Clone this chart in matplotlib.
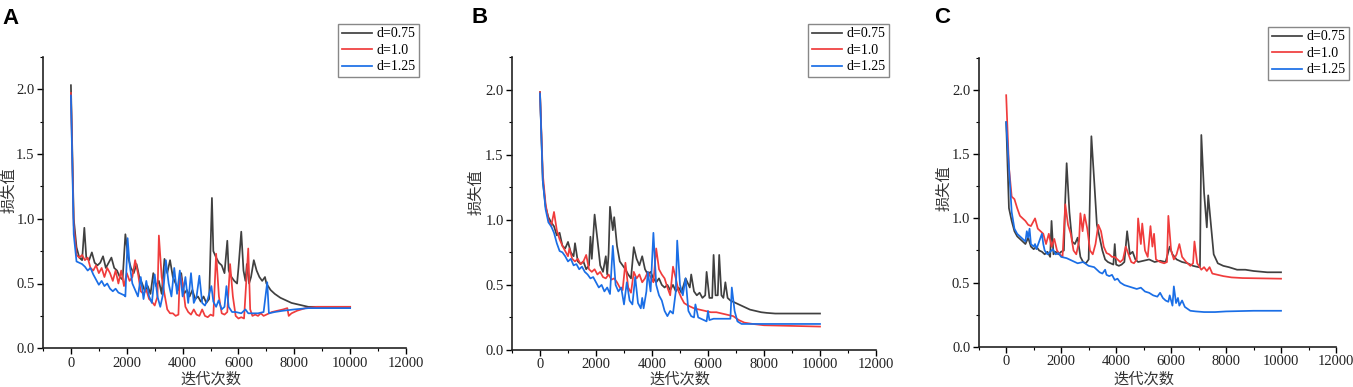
import numpy as np
import matplotlib
matplotlib.use("Agg")
import matplotlib.pyplot as plt
from matplotlib.ticker import MultipleLocator

# ---- panel A ----
a_x_075 = [0, 100, 200, 300, 400, 480, 550, 650, 750, 850, 950, 1050, 1150, 1250, 1350,
           1450, 1550, 1650, 1750, 1850, 1950, 2050, 2150, 2250, 2350, 2450, 2550, 2650,
           2750, 2850, 2950, 3050, 3150, 3250, 3350, 3450, 3550, 3650, 3750, 3850, 3950,
           4050, 4150, 4250, 4350, 4450, 4550, 4650, 4750, 4850, 4950, 5050, 5100, 5200,
           5300, 5400, 5500, 5600, 5650, 5750, 5850, 5950, 6000, 6100, 6180, 6250, 6300,
           6380, 6450, 6550, 6650, 6750, 6850, 6950, 7000, 7150, 7300, 7500, 7700, 7900,
           8100, 8300, 8500, 9000, 10000]
a_y_075 = [2.03, 1.00, 0.78, 0.70, 0.68, 0.93, 0.70, 0.68, 0.74, 0.66, 0.64, 0.66, 0.71, 0.62, 0.66,
           0.70, 0.62, 0.60, 0.55, 0.53, 0.88, 0.70, 0.62, 0.58, 0.65, 0.55, 0.50, 0.44,
           0.48, 0.42, 0.58, 0.48, 0.52, 0.42, 0.69, 0.58, 0.68, 0.55, 0.50, 0.45, 0.58,
           0.42, 0.45, 0.40, 0.45, 0.38, 0.40, 0.36, 0.40, 0.35, 0.38, 1.16, 0.75, 0.70,
           0.66, 0.64, 0.58, 0.83, 0.60, 0.55, 0.52, 0.50, 0.62, 0.90, 0.60, 0.52, 0.65,
           0.50, 0.55, 0.68, 0.60, 0.55, 0.52, 0.55, 0.50, 0.45, 0.42, 0.39, 0.37, 0.35,
           0.34, 0.33, 0.32, 0.32, 0.32]

a_x_100 = [0, 100, 200, 300, 400, 500, 600, 700, 800, 900, 1000, 1100, 1200, 1300, 1400,
           1500, 1600, 1700, 1800, 1900, 2000, 2100, 2200, 2300, 2400, 2500, 2600, 2700,
           2800, 2900, 3000, 3100, 3150, 3250, 3350, 3450, 3550, 3650, 3750, 3850, 3900,
           4000, 4100, 4200, 4300, 4400, 4500, 4600, 4700, 4800, 4900, 5000, 5100, 5200,
           5300, 5400, 5500, 5600, 5700, 5800, 5900, 6000, 6100, 6200, 6350, 6420, 6500,
           6600, 6700, 6800, 6900, 7000, 7200, 7400, 7600, 7750, 7800, 7900, 8100, 8400,
           8800, 10000]
a_y_100 = [1.97, 0.95, 0.72, 0.70, 0.72, 0.68, 0.70, 0.62, 0.60, 0.64, 0.58, 0.62, 0.55, 0.62, 0.58,
           0.52, 0.60, 0.50, 0.60, 0.48, 0.58, 0.52, 0.55, 0.68, 0.58, 0.44, 0.42, 0.45,
           0.38, 0.36, 0.33, 0.40, 0.87, 0.55, 0.42, 0.30, 0.27, 0.27, 0.25, 0.26, 0.58,
           0.50, 0.32, 0.28, 0.26, 0.30, 0.26, 0.25, 0.30, 0.25, 0.24, 0.26, 0.25, 0.73,
           0.40, 0.27, 0.26, 0.28, 0.65, 0.40, 0.25, 0.23, 0.24, 0.23, 0.77, 0.30, 0.25,
           0.26, 0.25, 0.27, 0.25, 0.26, 0.28, 0.29, 0.30, 0.31, 0.25, 0.27, 0.29, 0.31,
           0.32, 0.32]

a_x_125 = [0, 100, 200, 300, 400, 500, 600, 700, 800, 900, 1000, 1100, 1200, 1300, 1400,
           1500, 1600, 1700, 1800, 1900, 1950, 2030, 2100, 2200, 2300, 2400, 2500, 2600,
           2700, 2800, 2900, 3000, 3100, 3200, 3300, 3400, 3500, 3600, 3700, 3800, 3900,
           4000, 4100, 4200, 4300, 4400, 4500, 4600, 4700, 4800, 4900, 5030, 5100, 5200,
           5290, 5400, 5500, 5570, 5650, 5770, 5900, 6100, 6250, 6350, 6500, 6700, 6900,
           7030, 7090, 7300, 7600, 8000, 8500, 9000, 10000]
a_y_125 = [1.95, 0.88, 0.67, 0.66, 0.65, 0.63, 0.60, 0.62, 0.57, 0.53, 0.49, 0.52, 0.48, 0.50, 0.46,
           0.44, 0.46, 0.43, 0.42, 0.41, 0.40, 0.85, 0.65, 0.50, 0.45, 0.40, 0.55, 0.38,
           0.52, 0.40, 0.35, 0.57, 0.40, 0.32, 0.42, 0.68, 0.50, 0.40, 0.62, 0.42, 0.60,
           0.40, 0.55, 0.35, 0.58, 0.35, 0.40, 0.56, 0.35, 0.33, 0.38, 0.48, 0.36, 0.32,
           0.37, 0.30, 0.32, 0.48, 0.32, 0.28, 0.28, 0.27, 0.30, 0.27, 0.27, 0.27, 0.28,
           0.51, 0.27, 0.28, 0.29, 0.30, 0.31, 0.31, 0.31]

# ---- panel B ----
b_x_075 = [0, 100, 200, 300, 400, 500, 600, 700, 800, 900, 1000, 1100, 1200, 1250, 1350,
           1450, 1550, 1650, 1750, 1800, 1850, 1950, 2050, 2150, 2250, 2350, 2400, 2450,
           2500, 2600, 2650, 2750, 2850, 2950, 3050, 3150, 3250, 3350, 3450, 3550, 3650,
           3750, 3850, 3950, 4050, 4150, 4250, 4350, 4450, 4550, 4650, 4750, 4850, 4950,
           5050, 5200, 5350, 5400, 5500, 5600, 5700, 5800, 5900, 5950, 6050, 6150, 6200,
           6270, 6350, 6400, 6480, 6550, 6620, 6700, 6800, 6900, 7100, 7300, 7500, 7700,
           7900, 8100, 8400, 9000, 10000]
b_y_075 = [1.98, 1.30, 1.10, 1.02, 0.98, 0.95, 0.88, 0.90, 0.80, 0.78, 0.83, 0.75, 0.72, 0.82, 0.68,
           0.66, 0.68, 0.62, 0.65, 0.87, 0.70, 1.04, 0.85, 0.65, 0.60, 0.72, 0.58, 0.74,
           1.10, 0.92, 1.02, 0.80, 0.68, 0.65, 0.62, 0.58, 0.55, 0.79, 0.70, 0.65, 0.72,
           0.62, 0.58, 0.60, 0.55, 0.52, 0.55, 0.50, 0.48, 0.50, 0.46, 0.50, 0.45, 0.48,
           0.44, 0.55, 0.48, 0.58, 0.45, 0.42, 0.44, 0.40, 0.42, 0.60, 0.40, 0.40, 0.73,
           0.42, 0.42, 0.73, 0.42, 0.40, 0.52, 0.40, 0.38, 0.37, 0.35, 0.33, 0.31, 0.30,
           0.29, 0.285, 0.28, 0.28, 0.28]

b_x_100 = [0, 100, 200, 300, 400, 500, 600, 700, 800, 900, 1000, 1050, 1150, 1250, 1350,
           1450, 1550, 1650, 1750, 1850, 1950, 2050, 2150, 2250, 2350, 2450, 2550, 2650,
           2750, 2850, 2950, 3050, 3150, 3250, 3350, 3450, 3550, 3650, 3750, 3850, 3950,
           4050, 4150, 4250, 4350, 4450, 4550, 4650, 4750, 4850, 4950, 5050, 5150, 5300,
           5500, 5700, 5900, 6100, 6300, 6500, 6700, 6900, 7100, 7300, 7600, 8000, 9000,
           10000]
b_y_100 = [1.98, 1.35, 1.12, 1.00, 0.95, 1.06, 0.92, 0.85, 0.80, 0.76, 0.72, 0.78, 0.70, 0.68, 0.70,
           0.66, 0.68, 0.73, 0.62, 0.60, 0.62, 0.58, 0.60, 0.56, 0.55, 0.58, 0.54, 0.55,
           0.52, 0.48, 0.46, 0.67, 0.48, 0.44, 0.60, 0.55, 0.58, 0.52, 0.55, 0.60, 0.56,
           0.52, 0.78, 0.62, 0.58, 0.55, 0.48, 0.42, 0.64, 0.55, 0.45, 0.40, 0.36, 0.34,
           0.32, 0.31, 0.30, 0.29, 0.29, 0.28, 0.27, 0.26, 0.23, 0.21, 0.20, 0.19, 0.185,
           0.18]

b_x_125 = [0, 100, 200, 300, 400, 500, 600, 700, 800, 900, 1000, 1100, 1200, 1300, 1400,
           1500, 1600, 1700, 1800, 1900, 2000, 2100, 2200, 2300, 2400, 2500, 2600, 2700,
           2800, 2900, 3000, 3100, 3200, 3300, 3400, 3500, 3600, 3650, 3700, 3800, 3850,
           3950, 4050, 4150, 4250, 4350, 4450, 4550, 4650, 4750, 4850, 4900, 5000, 5100,
           5200, 5300, 5400, 5500, 5550, 5650, 5750, 5850, 5950, 6000, 6050, 6200, 6400,
           6600, 6800, 6850, 6950, 7050, 7200, 7500, 8000, 9000, 10000]
b_y_125 = [1.97, 1.30, 1.08, 0.98, 0.95, 0.90, 0.82, 0.76, 0.75, 0.72, 0.68, 0.70, 0.65, 0.66, 0.62,
           0.64, 0.60, 0.58, 0.55, 0.56, 0.52, 0.48, 0.50, 0.45, 0.48, 0.43, 0.80, 0.50,
           0.45, 0.48, 0.35, 0.52, 0.38, 0.35, 0.56, 0.36, 0.32, 0.40, 0.32, 0.45, 0.60,
           0.45, 0.90, 0.50, 0.42, 0.38, 0.30, 0.26, 0.30, 0.28, 0.45, 0.84, 0.50, 0.42,
           0.55, 0.30, 0.26, 0.25, 0.35, 0.25, 0.24, 0.23, 0.22, 0.30, 0.23, 0.24, 0.24,
           0.24, 0.24, 0.48, 0.30, 0.22, 0.20, 0.20, 0.20, 0.20, 0.20]

# ---- panel C ----
c_x_075 = [0, 100, 200, 300, 400, 500, 600, 700, 800, 900, 1000, 1100, 1200, 1300, 1400,
           1500, 1600, 1650, 1720, 1800, 1900, 2000, 2100, 2150, 2200, 2300, 2400, 2500,
           2600, 2700, 2800, 2900, 3000, 3050, 3100, 3200, 3300, 3400, 3500, 3600, 3700,
           3800, 3900, 3950, 4000, 4100, 4200, 4300, 4400, 4500, 4600, 4700, 4800, 5000,
           5200, 5400, 5600, 5800, 5950, 6050, 6200, 6400, 6600, 6800, 7000, 7050, 7100,
           7200, 7300, 7350, 7450, 7550, 7700, 7900, 8100, 8400, 8700, 9000, 9500, 10000]
c_y_075 = [1.75, 1.08, 0.98, 0.90, 0.86, 0.84, 0.82, 0.80, 0.85, 0.78, 0.76, 0.78, 0.75, 0.74, 0.72,
           0.74, 0.70, 0.98, 0.72, 0.74, 0.72, 0.74, 0.75, 1.15, 1.43, 1.05, 0.82, 0.80,
           0.85, 0.70, 0.66, 0.65, 0.68, 1.20, 1.64, 1.30, 0.95, 0.85, 0.75, 0.68, 0.66,
           0.65, 0.64, 0.80, 0.64, 0.63, 0.64, 0.66, 0.90, 0.72, 0.74, 0.68, 0.66, 0.67,
           0.68, 0.66, 0.67, 0.66, 0.78, 0.72, 0.68, 0.66, 0.65, 0.63, 0.62, 0.62, 1.65,
           1.20, 0.93, 1.18, 0.95, 0.72, 0.65, 0.63, 0.62, 0.60, 0.60, 0.59, 0.58, 0.58]

c_x_100 = [0, 100, 200, 300, 400, 500, 600, 700, 800, 900, 1000, 1050, 1150, 1250, 1350,
           1450, 1550, 1650, 1750, 1850, 1950, 2050, 2150, 2250, 2350, 2450, 2550, 2650,
           2700, 2780, 2850, 2950, 3050, 3150, 3250, 3350, 3450, 3550, 3650, 3750, 3850,
           3950, 4050, 4150, 4250, 4350, 4450, 4550, 4650, 4750, 4800, 4900, 4950, 5050,
           5150, 5250, 5320, 5380, 5450, 5600, 5750, 5850, 5900, 6000, 6100, 6200, 6300,
           6400, 6550, 6700, 6800, 6850, 6950, 7100, 7200, 7300, 7400, 7500, 7700, 7900,
           8200, 8600, 10000]
c_y_100 = [1.96, 1.40, 1.17, 1.15, 1.08, 1.02, 1.00, 0.98, 0.95, 0.94, 0.98, 1.00, 0.92, 0.90, 0.88,
           0.80, 0.88, 0.78, 0.84, 0.75, 0.72, 0.70, 1.11, 0.95, 0.88, 0.75, 0.72, 0.82,
           1.04, 0.90, 1.03, 0.92, 0.75, 0.72, 0.80, 0.95, 0.90, 0.78, 0.73, 0.72, 0.70,
           0.70, 0.68, 0.66, 0.68, 0.78, 0.72, 0.66, 0.65, 0.68, 1.00, 0.80, 0.96, 0.75,
           0.70, 0.94, 0.78, 0.88, 0.68, 0.66, 0.65, 0.66, 1.02, 0.75, 0.68, 0.72, 0.80,
           0.70, 0.66, 0.63, 0.65, 0.82, 0.65, 0.60, 0.62, 0.59, 0.62, 0.57, 0.56, 0.55,
           0.54, 0.535, 0.53]

c_x_125 = [0, 100, 200, 300, 400, 500, 600, 700, 750, 800, 850, 900, 1000, 1050, 1100,
           1200, 1300, 1350, 1400, 1500, 1600, 1700, 1800, 1900, 2000, 2200, 2400, 2600,
           2800, 3000, 3200, 3300, 3400, 3500, 3600, 3650, 3750, 3850, 3950, 4050, 4150,
           4300, 4450, 4600, 4750, 4900, 5050, 5200, 5350, 5500, 5600, 5700, 5800, 5900,
           5950, 6050, 6100, 6180, 6250, 6300, 6400, 6500, 6700, 6900, 7200, 7600, 8000,
           9000, 10000]
c_y_125 = [1.75, 1.40, 1.05, 0.92, 0.88, 0.86, 0.84, 0.82, 0.90, 0.85, 0.92, 0.80, 0.78, 0.80, 0.76,
           0.82, 0.88, 0.80, 0.75, 0.72, 0.74, 0.76, 0.72, 0.73, 0.70, 0.69, 0.67, 0.65,
           0.66, 0.63, 0.62, 0.60, 0.58, 0.57, 0.60, 0.56, 0.55, 0.56, 0.52, 0.53, 0.50,
           0.48, 0.47, 0.46, 0.45, 0.46, 0.43, 0.42, 0.40, 0.39, 0.42, 0.38, 0.36, 0.35,
           0.40, 0.32, 0.47, 0.34, 0.38, 0.32, 0.36, 0.31, 0.28, 0.275, 0.27, 0.27, 0.275,
           0.28, 0.28]

labels = ["d=0.75", "d=1.0", "d=1.25"]
colors = ["#404040", "#f03c3c", "#1a6ee6"]

panels = [
    ("A", [(a_x_075, a_y_075), (a_x_100, a_y_100), (a_x_125, a_y_125)]),
    ("B", [(b_x_075, b_y_075), (b_x_100, b_y_100), (b_x_125, b_y_125)]),
    ("C", [(c_x_075, c_y_075), (c_x_100, c_y_100), (c_x_125, c_y_125)]),
]

W, H = 1353, 387
# axes boxes in pixels: left, right, bottom(from top), top(from top)
boxes = [(43, 406, 348.3, 56.7), (512, 876, 350, 57), (978.7, 1336, 346.7, 58)]
legend_corner = [(419, 24), (889, 24), (1349, 27)]
letter_pos = [(2, 8), (471, 7), (934, 7)]
ylabel_pos = [(8.5, 190), (476, 192), (943.5, 188)]   # centre of y label, px
xlabel_top = 371

serif = "Liberation Serif"
cjk = "Noto Sans CJK SC"

fig = plt.figure(figsize=(W / 100, H / 100), dpi=100)

for i, (letter, series) in enumerate(panels):
    l, r, b, t = boxes[i]
    ax = fig.add_axes([l / W, (H - b) / H, (r - l) / W, (b - t) / H])
    for (xs, ys), lab, c in zip(series, labels, colors):
        ax.plot(xs, ys, color=c, lw=1.25, label=lab)

    ax.set_xlim(-1000, 12000)
    ax.set_ylim(0, 2.25)
    ax.xaxis.set_major_locator(MultipleLocator(2000))
    ax.xaxis.set_minor_locator(MultipleLocator(1000))
    ax.yaxis.set_minor_locator(MultipleLocator(0.25))
    ax.set_yticks([0, 0.5, 1.0, 1.5, 2.0])
    ax.set_yticklabels(["0.0", "0.5", "1.0", "1.5", "2.0"])

    for s in ["top", "right"]:
        ax.spines[s].set_visible(False)
    for s in ["left", "bottom"]:
        ax.spines[s].set_linewidth(1.2)
        ax.spines[s].set_color("#222222")

    ax.tick_params(which="major", direction="out", length=4, width=1, labelsize=10.5,
                   pad=2, labelcolor="#222222")
    ax.tick_params(which="minor", direction="out", length=2.5, width=0.8)
    for lbl in ax.get_xticklabels() + ax.get_yticklabels():
        lbl.set_fontfamily(serif)

    ax.set_xlabel("迭代次数", fontsize=11, family=cjk, color="#333333")
    ax.set_ylabel("损失值", fontsize=11, family=cjk, color="#333333")
    # x label sits over x = 5000 in the reference
    ax.xaxis.set_label_coords((5000 + 1000) / 13000, (b - xlabel_top) / (b - t))
    yx, yy = ylabel_pos[i]
    ax.yaxis.set_label_coords((yx - l) / (r - l), (b - yy) / (b - t))
    ax.yaxis.label.set_verticalalignment("center")

    lx, ly = legend_corner[i]
    ax.legend(loc="upper right", bbox_to_anchor=(lx / W, 1 - ly / H),
              bbox_transform=fig.transFigure, frameon=True, fancybox=False,
              edgecolor="#888888", framealpha=1, borderpad=0.25, labelspacing=0.25,
              handlelength=2.2, handletextpad=0.3, borderaxespad=0,
              prop={"family": serif, "size": 10})
    ax.get_legend().get_frame().set_linewidth(1.0)

    px, py = letter_pos[i]
    fig.text(px / W, 1 - py / H, letter, fontsize=16, fontweight="bold",
             family="Liberation Sans", va="top", ha="left")

fig.savefig("out.png", dpi=100)
